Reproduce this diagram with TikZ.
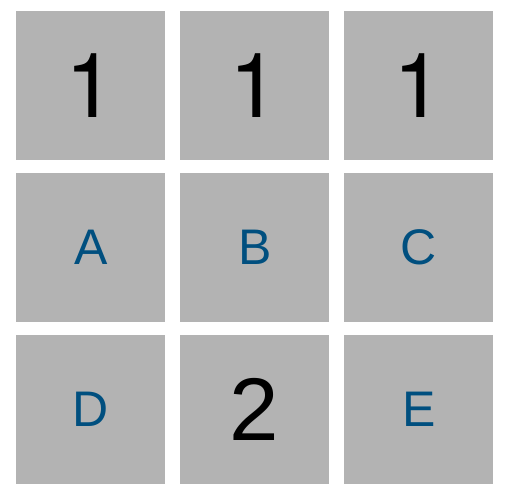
\documentclass[tikz,border=0pt]{standalone}
\usepackage{fontspec}
\setmainfont{Liberation Sans}
\newfontfamily\herosfont{TeX Gyre Heros}
\definecolor{boxgray}{HTML}{B3B3B3}
\definecolor{letterblue}{HTML}{004F7F}
\begin{document}
\begin{tikzpicture}[x=1pt,y=-1pt,
  cell/.style={fill=boxgray,draw=none,minimum size=149pt,inner sep=0pt,anchor=north west},
  num/.style={cell,font=\fontsize{89}{89}\selectfont,text=black},
  one/.style={cell,font=\herosfont\fontsize{90}{90}\selectfont,text=black},
  let/.style={cell,font=\fontsize{50}{50}\selectfont,text=letterblue}]
\useasboundingbox (0,0) rectangle (509,497);
\node[one] (n11) at (16,11) {1};
\node[one] (n12) at (180,11) {1};
\node[one] (n13) at (344,11) {1};
\node[let] (a) at (16,173) {A};
\node[let] (b) at (180,173) {B};
\node[let] (c) at (344,173) {C};
\node[let] (d) at (16,335) {D};
\node[num] (n2) at (180,335) {2};
\node[let] (e) at (344,335) {E};
\end{tikzpicture}
\end{document}
